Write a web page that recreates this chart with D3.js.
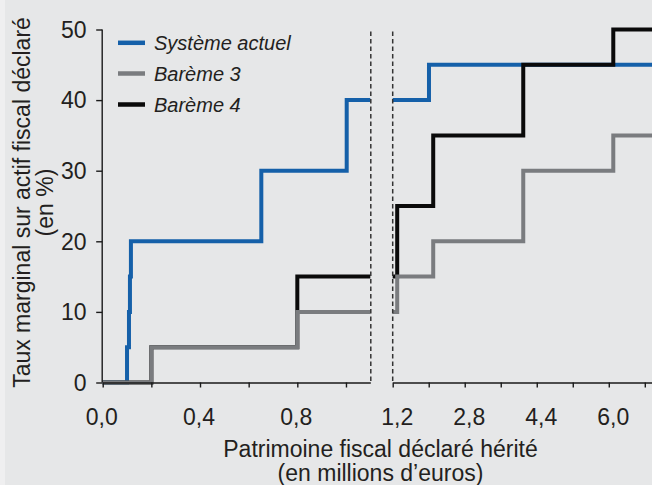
<!DOCTYPE html>
<html><head><meta charset="utf-8">
<script src="https://cdn.jsdelivr.net/npm/d3@7"></script>
<style>body{margin:0;background:#e6e7e8;} svg{display:block}</style>
</head><body>
<svg id="c" width="652" height="485"></svg>
<script>
// Data (millions d'euros, taux en %)
const seuilsActuel = [0, 0.1, 0.108, 0.112, 0.116, 0.652, 1.003, 1.906];
const tauxActuel   = [0, 5, 10, 15, 20, 30, 40, 45];
const seuilsBareme = [0, 0.2, 0.8, 1.2, 2.0, 4.0, 6.0];
const tauxBareme3  = [0, 5, 10, 15, 20, 30, 35];
const tauxBareme4  = [0, 5, 15, 25, 35, 45, 50];
const legendNames  = ["Système actuel", "Barème 3", "Barème 4"];
const yTicks = [0, 10, 20, 30, 40, 50];
const xTicksLeft  = [0, 0.2, 0.4, 0.6, 0.8, 1.0];
const xLabelsLeft = [0, 0.4, 0.8];
const xTicksRight  = [1.1, 1.9, 2.7, 3.5, 4.3, 5.1, 5.9, 6.7];
const xLabelsRight = [1.2, 2.8, 4.4, 6.0];
const breakAt = 1.1;
const xMaxRight = 6.86;

const colors = {actuel: "#1560a9", b3: "#7a7c7f", b4: "#0a0a0a"};
const series = [
  {name: legendNames[0], seuils: seuilsActuel, taux: tauxActuel, color: colors.actuel},
  {name: legendNames[1], seuils: seuilsBareme, taux: tauxBareme3, color: colors.b3},
  {name: legendNames[2], seuils: seuilsBareme, taux: tauxBareme4, color: colors.b4}
];
const drawOrder = [0, 2, 1];

const svg = d3.select("#c");
const font = "'Liberation Sans', Arial, sans-serif";
const textColor = "#231f20";

svg.append("rect").attr("width", 652).attr("height", 485).attr("fill", "#e6e7e8");
svg.append("rect").attr("width", 5).attr("height", 485).attr("fill", "#efeff0");

const y = d3.scaleLinear().domain([0, 50]).range([382.5, 29.5]);
const xL = d3.scaleLinear().domain([0, breakAt]).range([102.7, 370.3]);
const xR = d3.scaleLinear().domain([breakAt, xMaxRight]).range([392.7, 652]);

function stepPoints(seuils, taux, x0, x1) {
  let v = 0;
  seuils.forEach((s, i) => { if (s <= x0) v = taux[i]; });
  const pts = [[x0, v]];
  seuils.forEach((s, i) => { if (s > x0 && s < x1) pts.push([s, taux[i]]); });
  pts.push([x1, pts[pts.length - 1][1]]);
  return pts;
}

const gLines = svg.append("g");
drawOrder.forEach(i => {
  const s = series[i];
  [[xL, 0, breakAt], [xR, breakAt, xMaxRight]].forEach(([sc, a, b]) => {
    const line = d3.line().x(d => sc(d[0])).y(d => y(d[1])).curve(d3.curveStepAfter);
    gLines.append("path")
      .attr("d", line(stepPoints(s.seuils, s.taux, a, b)))
      .attr("fill", "none").attr("stroke", s.color)
      .attr("stroke-width", 4).attr("stroke-linejoin", "miter");
  });
});

// Axes
const axisColor = "#1a1a1a";
const yAxis = svg.append("g").attr("transform", `translate(${xL(0) - 0.5},0)`)
  .call(d3.axisLeft(y).tickValues(yTicks).tickSize(6).tickFormat(""));
yAxis.select(".domain").attr("d", `M0,${y(50)}V${y(0)}`);
yAxis.selectAll("line, path").attr("stroke", axisColor).attr("stroke-width", 1.4);
svg.append("g").selectAll("text").data(yTicks).join("text")
  .attr("x", 86.5).attr("y", d => y(d)).attr("dy", "0.36em")
  .attr("text-anchor", "end").attr("font-family", font).attr("font-size", 23)
  .attr("fill", textColor).text(d => d);

const xAxL = svg.append("g").attr("transform", `translate(0,${y(0)})`)
  .call(d3.axisBottom(xL).tickValues(xTicksLeft).tickSize(5).tickSizeOuter(0).tickFormat(""));
const xAxR = svg.append("g").attr("transform", `translate(0,${y(0)})`)
  .call(d3.axisBottom(xR).tickValues(xTicksRight).tickSize(5).tickSizeOuter(0).tickFormat(""));
[xAxL, xAxR].forEach(g => g.selectAll("line, path").attr("stroke", axisColor).attr("stroke-width", 1.4));

const fmt = d => d3.format(".1f")(d).replace(".", ",");
svg.append("g").selectAll("text").data(xLabelsLeft).join("text")
  .attr("x", d => xL(d) - 1).attr("y", 425)
  .attr("text-anchor", "middle").attr("font-family", font).attr("font-size", 23)
  .attr("fill", textColor).text(fmt);
svg.append("g").selectAll("text").data(xLabelsRight).join("text")
  .attr("x", d => xR(d)).attr("y", 425)
  .attr("text-anchor", "middle").attr("font-family", font).attr("font-size", 23)
  .attr("fill", textColor).text(fmt);

// Break dashed lines
[xL(breakAt) + 0.5, xR(breakAt)].forEach(xx => {
  svg.append("line").attr("x1", xx).attr("x2", xx).attr("y1", 31.5).attr("y2", y(0))
    .attr("stroke", "#333").attr("stroke-width", 1.5).attr("stroke-dasharray", "4.5,3");
});

// Axis titles
const xt = svg.append("text").attr("text-anchor", "middle").attr("font-family", font)
  .attr("font-size", 23).attr("fill", textColor);
xt.append("tspan").attr("x", 380.5).attr("y", 457).text("Patrimoine fiscal déclaré hérité");
xt.append("tspan").attr("x", 380.5).attr("y", 481).text("(en millions d’euros)");

const yt = svg.append("text").attr("text-anchor", "middle").attr("font-family", font)
  .attr("font-size", 23).attr("fill", textColor)
  .attr("transform", "translate(0,202.5) rotate(-90)");
yt.append("tspan").attr("x", 0).attr("y", 29.5).text("Taux marginal sur actif fiscal déclaré");
yt.append("tspan").attr("x", 0).attr("y", 52.5).text("(en %)");

// Legend
const legY = [42.8, 73.5, 104.5];
const lg = svg.append("g");
series.forEach((s, i) => {
  lg.append("line").attr("x1", 118).attr("x2", 145).attr("y1", legY[i]).attr("y2", legY[i])
    .attr("stroke", s.color).attr("stroke-width", 4.5);
  lg.append("text").attr("x", 154).attr("y", legY[i] + 7.3)
    .attr("font-family", font).attr("font-size", 20).attr("font-style", "italic")
    .attr("fill", textColor).text(s.name);
});
</script>
</body></html>
